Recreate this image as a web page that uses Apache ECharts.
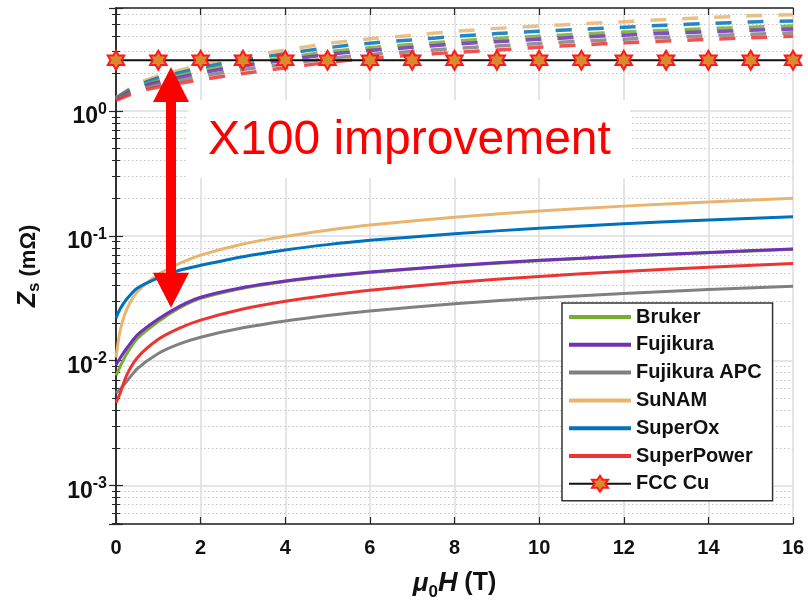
<!DOCTYPE html>
<html><head><meta charset="utf-8">
<script src="https://cdn.jsdelivr.net/npm/echarts@6/dist/echarts.min.js"></script>
<style>html,body{margin:0;padding:0;background:#fff}#c{width:808px;height:610px}</style>
</head><body><div id="c"></div>
<script>
// ---------- data ----------
const fieldH = [0, 0.1, 0.25, 0.5, 1, 1.5, 2, 3, 4, 5, 6, 8, 10, 12, 14, 16];
const bruker      = [0.0076,0.0090,0.0113,0.0150,0.0206,0.0264,0.0315,0.0380,0.0430,0.0472,0.0508,0.0574,0.0632,0.0684,0.0732,0.0780];
const fujikura    = [0.0092,0.0105,0.0125,0.0160,0.0215,0.0272,0.0322,0.0385,0.0434,0.0476,0.0512,0.0578,0.0636,0.0688,0.0736,0.0785];
const fujikuraAPC = [0.0055,0.0059,0.0068,0.0086,0.0114,0.0136,0.0154,0.0183,0.0208,0.0230,0.0250,0.0286,0.0317,0.0345,0.0371,0.0395];
const sunam       = [0.0106,0.0175,0.0255,0.0355,0.0490,0.0600,0.0700,0.0860,0.0990,0.1110,0.1220,0.1410,0.1580,0.1730,0.1870,0.2000];
const superox     = [0.0219,0.0260,0.0310,0.0380,0.0460,0.0530,0.0580,0.0680,0.0770,0.0850,0.0920,0.1040,0.1150,0.1250,0.1340,0.1420];
const superpower  = [0.0046,0.0055,0.0076,0.0105,0.0148,0.0182,0.0211,0.0259,0.0299,0.0334,0.0366,0.0423,0.0473,0.0518,0.0560,0.0600];

const fieldHD = [0, 0.5, 1, 2, 3, 4, 5, 6, 7, 8, 9, 10, 11, 12, 13, 14, 15, 16];
const brukerD      = [1.25,1.55,1.76,2.10,2.40,2.68,2.98,3.22,3.42,3.63,3.82,3.98,4.14,4.30,4.44,4.58,4.70,4.80];
const fujikuraD    = [1.24,1.52,1.70,2.02,2.30,2.56,2.84,3.06,3.24,3.44,3.60,3.76,3.92,4.06,4.20,4.32,4.44,4.54];
const fujikuraAPCD = [1.23,1.47,1.63,1.90,2.15,2.38,2.63,2.84,3.00,3.17,3.32,3.48,3.63,3.77,3.90,4.02,4.13,4.24];
const sunamD       = [1.28,1.65,1.91,2.34,2.72,3.08,3.48,3.80,4.05,4.35,4.60,4.80,5.00,5.20,5.42,5.62,5.80,5.92];
const superoxD     = [1.27,1.60,1.84,2.22,2.56,2.88,3.22,3.50,3.72,3.96,4.18,4.36,4.52,4.70,4.88,5.04,5.18,5.28];
const superpowerD  = [1.22,1.42,1.56,1.78,2.00,2.22,2.45,2.65,2.80,2.95,3.08,3.24,3.39,3.52,3.64,3.76,3.87,3.98];

const cuH  = [0,1,2,3,4,5,6,7,8,9,10,11,12,13,14,15,16];
const cuZs = [2.56,2.56,2.56,2.56,2.56,2.56,2.56,2.56,2.56,2.56,2.56,2.56,2.56,2.56,2.56,2.56,2.56];

const names  = ['Bruker','Fujikura','Fujikura APC','SuNAM','SuperOx','SuperPower'];
const colors = ['#77AC30','#7030B8','#808080','#E9B56E','#0072BD','#EE3333'];
const solid  = [bruker, fujikura, fujikuraAPC, sunam, superox, superpower];
const dashed = [brukerD, fujikuraD, fujikuraAPCD, sunamD, superoxD, superpowerD];
const xTicks = [0,2,4,6,8,10,12,14,16];

// arrow annotation endpoints (data coords)
const arrowH = 1.3, arrowTop = 1.63, arrowBottom = 0.0367;

const pair = (xs, ys) => xs.map((x, i) => [x, ys[i]]);
const FONT = 'Liberation Sans, Arial, sans-serif';
const star = 'path://M100,0L128.87,50L186.6,50L157.74,100L186.6,150L128.87,150L100,200L71.13,150L13.4,150L42.26,100L13.4,50L71.13,50Z';
const lineIcon = 'path://M0,0L62,0L62,4L0,4Z';

const series = [];
[3,4,0,1,2,5].forEach(i => {
  series.push({
    name: names[i] + ' (dashed)', type: 'line', data: pair(fieldHD, dashed[i]),
    symbol: 'none', smooth: 0.25, z: 2,
    lineStyle: { color: colors[i], width: 3.5, type: [16, 16], opacity: 0.85 },
    animation: false
  });
});
names.forEach((n, i) => {
  series.push({
    name: n, type: 'line', data: pair(fieldH, solid[i]), symbol: 'none',
    smooth: 0.25, z: 3,
    lineStyle: { color: colors[i], width: 3 }, itemStyle: { color: colors[i] },
    animation: false
  });
});
series.push({
  name: 'FCC Cu', type: 'line', data: pair(cuH, cuZs), z: 4,
  symbol: star, symbolSize: 19, symbolKeepAspect: true, showSymbol: true,
  lineStyle: { color: '#111', width: 2 },
  itemStyle: { color: '#D98A2E', borderColor: '#FF1A1A', borderWidth: 2 },
  animation: false,
  markLine: {
    silent: true, animation: false, symbol: ['triangle', 'triangle'], symbolSize: [36, 35],
    label: { show: false },
    lineStyle: { color: '#FF0000', width: 10, type: 'solid', opacity: 1 },
    data: [[{ coord: [arrowH, arrowTop] }, { coord: [arrowH, arrowBottom] }]]
  }
});

const axisLineStyle = { color: '#262626', width: 1.5 };
const yFmt = v => {
  const l = Math.log10(v), e = Math.round(l);
  if (Math.abs(l - e) > 1e-6) return '';
  return '{b|10}{e|' + e + '}';
};
const yBase = {
  type: 'log', logBase: 10, min: 4.9e-4, max: 6.7,
  axisLine: { show: true, lineStyle: axisLineStyle },
  axisTick: { show: true, inside: true, length: 7, lineStyle: { color: '#262626', width: 1.2 } },
  minorTick: { show: true, splitNumber: 9, length: 4, lineStyle: { color: '#262626', width: 1 } }
};

const option = {
  backgroundColor: '#fff',
  animation: false,
  grid: { left: 116, right: 15, top: 8, bottom: 86, containLabel: false },
  xAxis: [{
    type: 'value', min: 0, max: 16, interval: 2, position: 'bottom',
    name: '{mu|μ}{sub|0}{h|H}{t| (T)}', nameLocation: 'middle', nameGap: 42,
    nameTextStyle: { fontFamily: FONT, color: '#111', rich: {
      mu: { fontFamily: FONT, fontStyle: 'italic', fontWeight: 'bold', fontSize: 26, color: '#111' },
      sub: { fontFamily: FONT, fontWeight: 'bold', fontSize: 17, color: '#111', padding: [18, 0, 0, 0] },
      h: { fontFamily: FONT, fontStyle: 'italic', fontWeight: 'bold', fontSize: 27, color: '#111' },
      t: { fontFamily: FONT, fontWeight: 'bold', fontSize: 25, color: '#111' } } },
    axisLine: { show: true, onZero: false, lineStyle: axisLineStyle },
    axisTick: { show: true, inside: true, length: 7, lineStyle: { color: '#262626', width: 1.2 } },
    axisLabel: { show: true, margin: 14, fontFamily: FONT, fontSize: 20, fontWeight: 'bold', color: '#111',
      formatter: v => xTicks.includes(v) ? String(v) : '' },
    splitLine: { show: true, lineStyle: { color: '#DCDCDC', width: 1.5 } }
  }, {
    type: 'value', min: 0, max: 16, interval: 2, position: 'top',
    axisLine: { show: true, onZero: false, lineStyle: axisLineStyle },
    axisTick: { show: true, inside: true, length: 7, lineStyle: { color: '#262626', width: 1.2 } },
    axisLabel: { show: false }, splitLine: { show: false }
  }],
  yAxis: [Object.assign({}, yBase, {
    position: 'left',
    name: '{z|Z}{sub|s}{u| (mΩ)}', nameLocation: 'middle', nameGap: 73,
    nameTextStyle: { fontFamily: FONT, color: '#111', rich: {
      z: { fontFamily: FONT, fontStyle: 'italic', fontWeight: 'bold', fontSize: 25, color: '#111' },
      sub: { fontFamily: FONT, fontWeight: 'bold', fontSize: 17, color: '#111', padding: [12, 0, 0, 0] },
      u: { fontFamily: FONT, fontWeight: 'bold', fontSize: 22, color: '#111' } } },
    axisLabel: { show: true, margin: 9, showMinLabel: false, showMaxLabel: false, formatter: yFmt,
      rich: {
        b: { fontFamily: FONT, fontSize: 23, fontWeight: 'bold', color: '#111', verticalAlign: 'bottom', padding: [12, 0, 0, 0] },
        e: { fontFamily: FONT, fontSize: 16, fontWeight: 'bold', color: '#111', verticalAlign: 'bottom', padding: [0, 0, 11, 0] }
      } },
    splitLine: { show: true, lineStyle: { color: '#DCDCDC', width: 1.5 } },
    minorSplitLine: { show: true, lineStyle: { color: '#C4C4C4', width: 1, type: [1.5, 2.5] } }
  }), Object.assign({}, yBase, {
    position: 'right', axisLabel: { show: false }, splitLine: { show: false }, minorSplitLine: { show: false }
  })],
  legend: {
    data: names.map(n => ({ name: n, icon: lineIcon })).concat([{ name: 'FCC Cu' }]),
    orient: 'vertical', left: 562, top: 303,
    itemWidth: 62, itemHeight: 20, itemGap: 7.8, symbolKeepAspect: true,
    padding: [4, 11, 7, 6],
    backgroundColor: '#fff', borderColor: '#333', borderWidth: 1.5, borderRadius: 0,
    textStyle: { fontFamily: FONT, fontSize: 20, fontWeight: 'bold', color: '#111' },
    selectedMode: false
  },
  graphic: [
    { type: 'rect', z: 1, silent: true, shape: { x: 188, y: 100, width: 442, height: 78 }, style: { fill: '#fff' } },
    { type: 'text', z: 1, z2: 10, silent: true, x: 208, y: 141,
      style: { text: 'X100 improvement', font: 'normal 48px Liberation Sans, Arial, sans-serif', fill: '#FF0000',
        textAlign: 'left', textVerticalAlign: 'middle' } }
  ],
  series: series
};
const chart = echarts.init(document.getElementById('c'), null, { renderer: 'canvas' });
chart.setOption(option);
</script></body></html>
